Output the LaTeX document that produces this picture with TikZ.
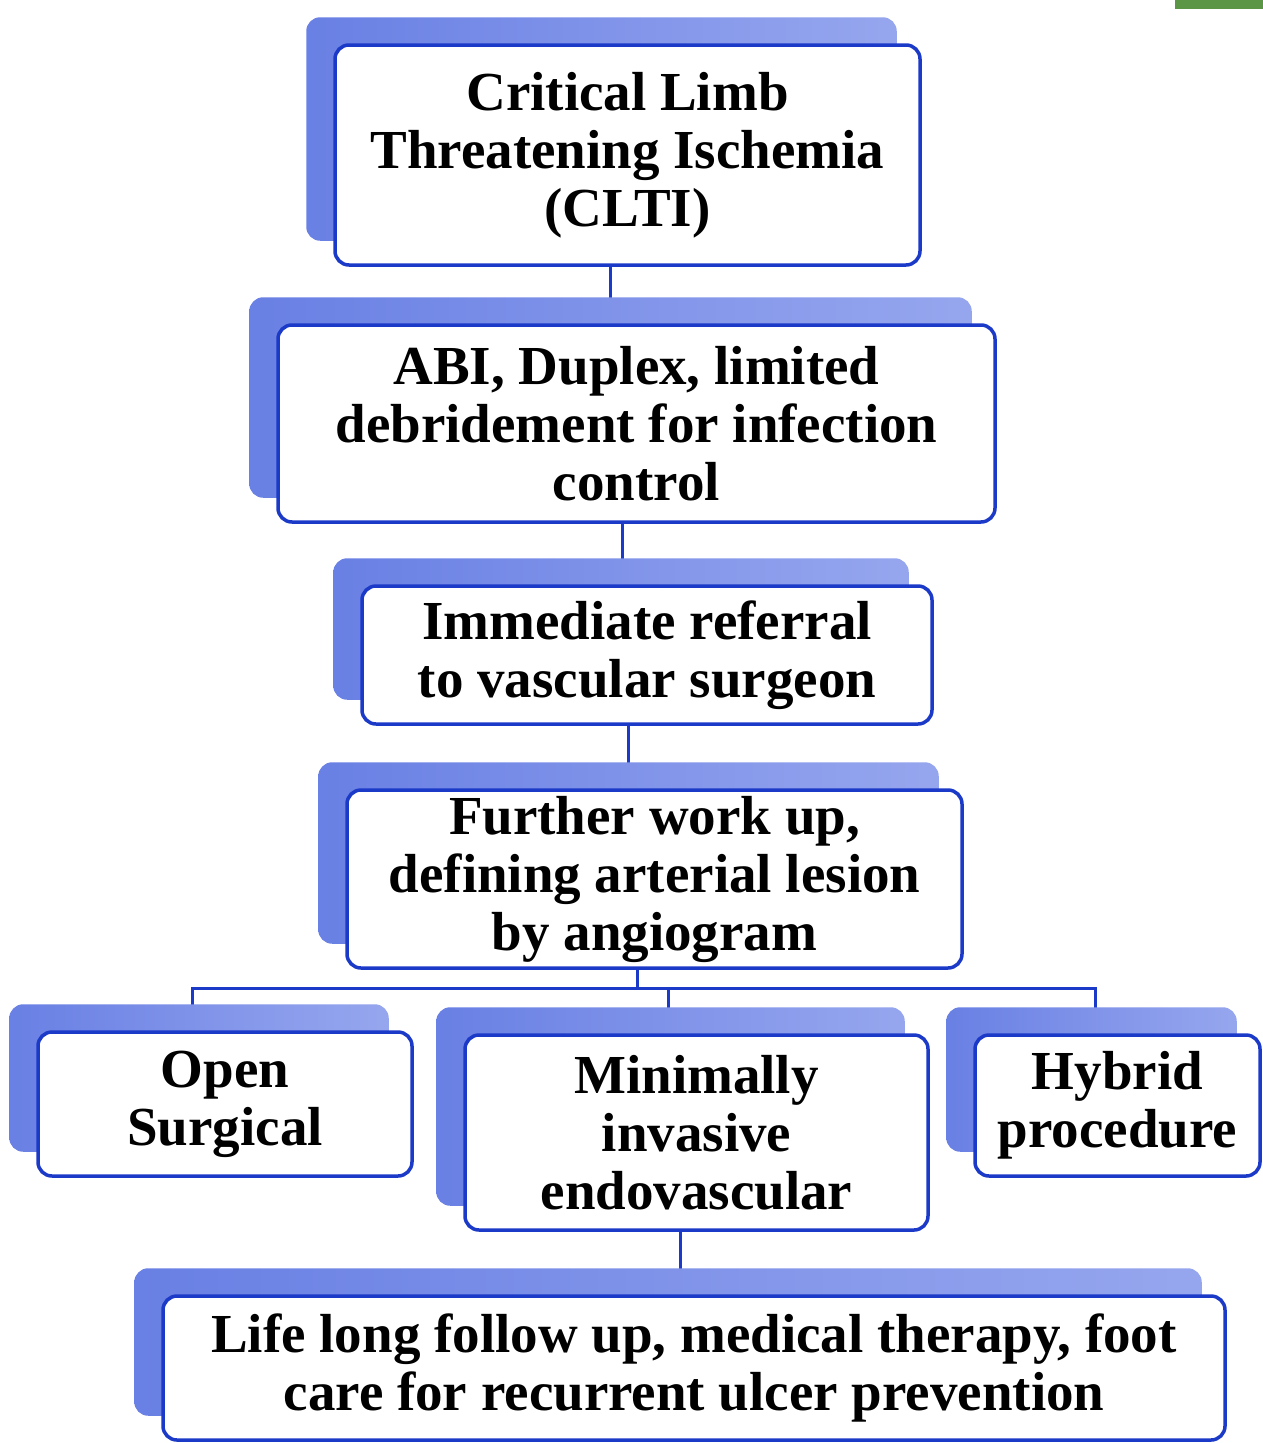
\documentclass[tikz,border=0pt]{standalone}
\usepackage{fontspec}
\setmainfont{Liberation Serif}
\pgfdeclarelayer{bglayer}
\pgfdeclarelayer{connlayer}
\pgfdeclarelayer{shdlayer}
\pgfsetlayers{bglayer,connlayer,shdlayer,main}
\definecolor{bordc}{RGB}{28,58,200}
\definecolor{shL}{RGB}{105,128,228}
\definecolor{shR}{RGB}{150,166,238}
\definecolor{grn}{RGB}{90,150,70}
\tikzset{
  fbox/.style={draw=bordc, line width=3.5pt, fill=white, rounded corners=14pt,
    align=center, inner sep=0pt, font=\bfseries\fontsize{55}{58}\selectfont},
  conn/.style={draw=bordc, line width=3pt},
}
\begin{document}
\begin{tikzpicture}[x=1pt,y=-1pt]
\useasboundingbox (0,0) rectangle (1263,1443);
\begin{pgfonlayer}{bglayer}
\fill[white] (0,0) rectangle (1263,1443);
\fill[grn] (1175,0) rectangle (1263,9);
\end{pgfonlayer}

\node[fbox, minimum width=585pt, minimum height=220pt] (b1) at (627.5,155) {Critical Limb\\Threatening Ischemia\\(CLTI)};
\node[fbox, minimum width=717pt, minimum height=197pt] (b2) at (636.5,423.5) {ABI, Duplex, limited\\debridement for infection\\control};
\node[fbox, minimum width=570pt, minimum height=138pt] (b3) at (647,655) {Immediate referral\\to vascular surgeon};
\node[fbox, minimum width=615pt, minimum height=178pt] (b4) at (654.5,879) {Further work up,\\defining arterial lesion\\by angiogram};
\node[fbox, minimum width=374pt, minimum height=144pt] (b5) at (225,1104) {Open\\Surgical};
\node[fbox, minimum width=463pt, minimum height=195pt] (b6) at (696.5,1132.5) {Minimally\\invasive\\endovascular};
\node[fbox, minimum width=285pt, minimum height=141pt] (b7) at (1117.5,1105.5) {Hybrid\\procedure};
\node[fbox, minimum width=1062pt, minimum height=144pt] (b8) at (694,1368) {Life long follow up, medical therapy, foot\\care for recurrent ulcer prevention};

\coordinate (jL) at (192,988);
\coordinate (jM) at (637,988);
\coordinate (jD) at (668,988);
\coordinate (jR) at (1095,988);

\begin{pgfonlayer}{shdlayer}
\foreach \n in {b1,b2,b3,b4,b5,b6,b7,b8}
  \shade[left color=shL, right color=shR, rounded corners=14pt]
    ([shift={(-27,-26)}]\n.south west) rectangle ([shift={(-25,-26)}]\n.north east);
\end{pgfonlayer}

\begin{pgfonlayer}{connlayer}
\draw[conn] ([xshift=-17.5pt]b1.south) -- ([xshift=-17.5pt]b1.south |- b2.north);
\draw[conn] ([xshift=-14.5pt]b2.south) -- ([xshift=-14.5pt]b2.south |- b3.north);
\draw[conn] ([xshift=-19pt]b3.south) -- ([xshift=-19pt]b3.south |- b4.north);
\draw[conn] ([xshift=-17.5pt]b4.south) -- (jM);
\draw[conn] (jL |- b5.north) -- (jL) -- (jR) -- (jR |- b7.north);
\draw[conn] (jD) -- (jD |- b6.north);
\draw[conn] ([xshift=-16.5pt]b6.south) -- ([xshift=-16.5pt]b6.south |- b8.north);
\end{pgfonlayer}
\end{tikzpicture}
\end{document}
